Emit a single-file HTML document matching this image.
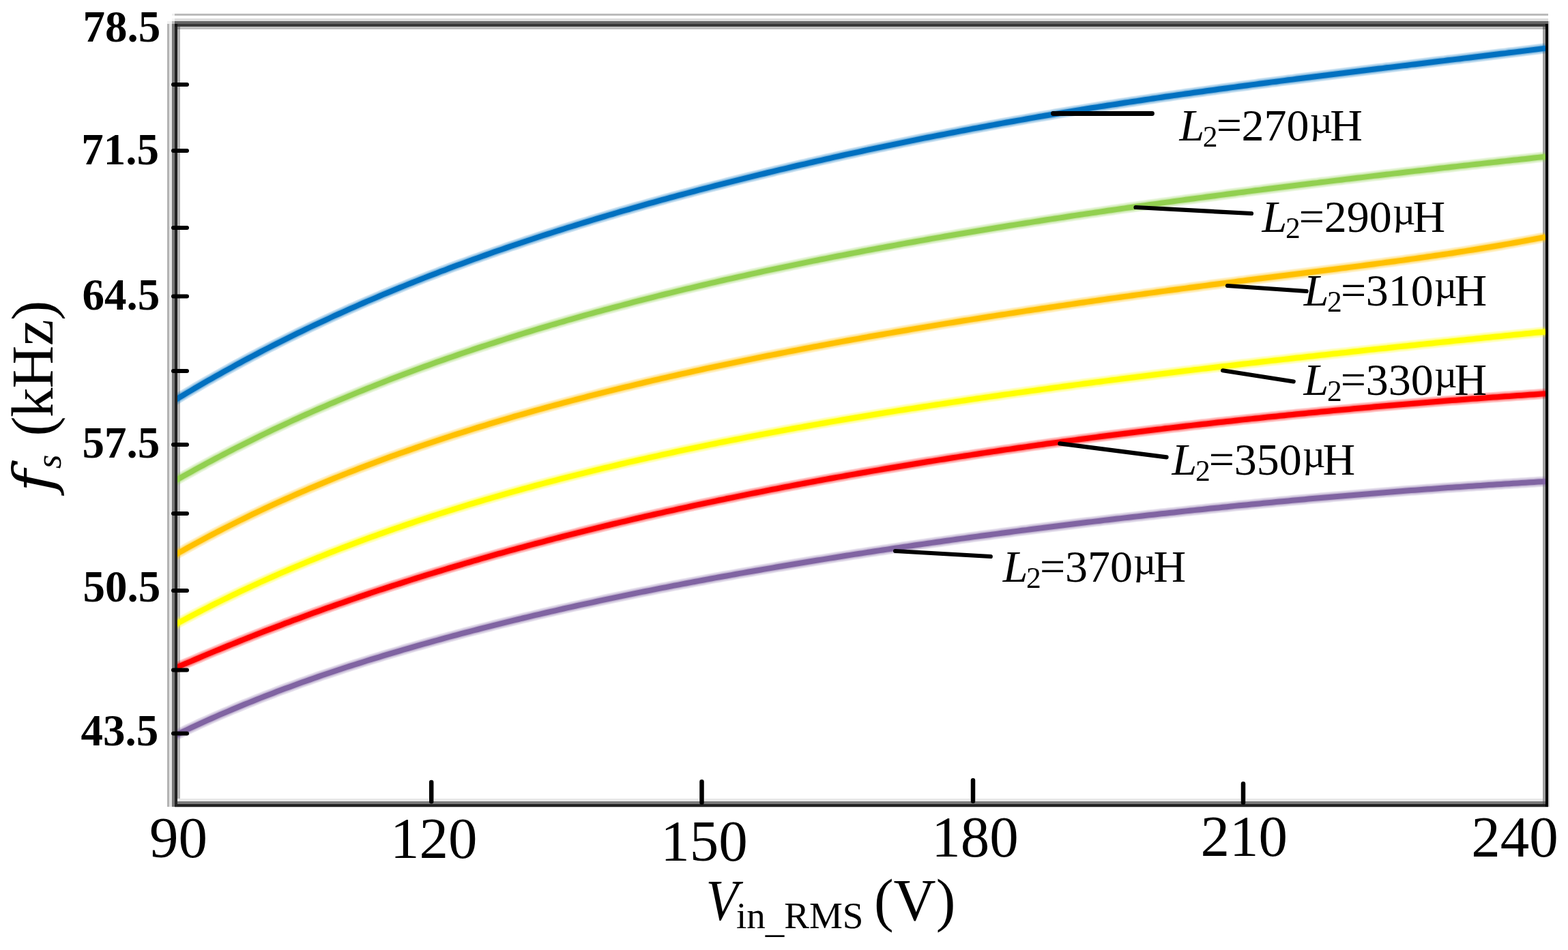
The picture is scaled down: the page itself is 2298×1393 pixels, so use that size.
<!DOCTYPE html>
<html><head><meta charset="utf-8"><style>
html,body{margin:0;padding:0;background:#fff;width:2298px;height:1393px;overflow:hidden}
svg{display:block}
</style></head><body>
<svg xmlns="http://www.w3.org/2000/svg" width="2298" height="1393" viewBox="0 0 2298 1393">
<rect width="2298" height="1393" fill="#fff"/>
<g shape-rendering="crispEdges">
<rect x="252" y="20" width="4" height="3" fill="#f0f0f0"/>
<rect x="256" y="20" width="2013" height="3" fill="#bbbbbb"/>
<rect x="252" y="27" width="4" height="4" fill="#f5f5f5"/>
<rect x="256" y="27" width="2013" height="4" fill="#dddddd"/>
<rect x="245" y="31" width="7" height="4" fill="#f2f2f2"/>
<rect x="252" y="31" width="4" height="4" fill="#bbbbbb"/>
<rect x="256" y="31" width="2013" height="4" fill="#666666"/>
<rect x="2269" y="31" width="2" height="1152" fill="#d0d0d0"/>
<rect x="256" y="35" width="2009" height="4" fill="#383838"/>
<rect x="264" y="39" width="1997" height="4" fill="#c0c0c0"/>
<rect x="245" y="35" width="3" height="1148" fill="#b3b3b3"/>
<rect x="248" y="35" width="4" height="1148" fill="#e6e6e6"/>
<rect x="252" y="35" width="4" height="1148" fill="#787878"/>
<rect x="260" y="39" width="4" height="4" fill="#888888"/>
<rect x="260" y="43" width="4" height="1128" fill="#b5b5b5"/>
<rect x="260" y="1171" width="2001" height="4" fill="#e8e8e8"/>
<rect x="260" y="1175" width="2001" height="4" fill="#7a7a7a"/>
<rect x="256" y="1179" width="2013" height="4" fill="#222222"/>
<rect x="256" y="1183" width="2013" height="1" fill="#c8c8c8"/>
<rect x="2261" y="39" width="4" height="4" fill="#777777"/>
<rect x="2261" y="43" width="4" height="1132" fill="#a0a0a0"/>
<rect x="2261" y="1175" width="4" height="4" fill="#666666"/>
</g>
<defs>
<path id="c_blue" d="M256.0 587.0 L262.0 583.3 L268.0 579.7 L274.0 576.1 L280.0 572.6 L286.0 569.0 L292.0 565.5 L298.0 562.0 L304.0 558.6 L310.0 555.2 L316.0 551.8 L322.0 548.4 L328.0 545.0 L334.0 541.7 L340.0 538.4 L346.0 535.1 L352.0 531.9 L358.0 528.6 L364.0 525.4 L370.0 522.2 L376.0 519.1 L382.0 515.9 L388.0 512.8 L394.0 509.7 L400.0 506.7 L406.0 503.6 L412.0 500.6 L418.0 497.6 L424.0 494.6 L430.0 491.7 L436.0 488.7 L442.0 485.8 L448.0 482.9 L454.0 480.0 L460.0 477.2 L466.0 474.4 L472.0 471.6 L478.0 468.8 L484.0 466.0 L490.0 463.2 L496.0 460.5 L502.0 457.8 L508.0 455.1 L514.0 452.4 L520.0 449.8 L526.0 447.2 L532.0 444.5 L538.0 441.9 L544.0 439.4 L550.0 436.8 L556.0 434.3 L562.0 431.7 L568.0 429.2 L574.0 426.7 L580.0 424.3 L586.0 421.8 L592.0 419.4 L598.0 416.9 L604.0 414.5 L610.0 412.1 L616.0 409.8 L622.0 407.4 L628.0 405.1 L634.0 402.7 L640.0 400.4 L646.0 398.1 L652.0 395.9 L658.0 393.6 L664.0 391.3 L670.0 389.1 L676.0 386.9 L682.0 384.7 L688.0 382.5 L694.0 380.3 L700.0 378.2 L706.0 376.0 L712.0 373.9 L718.0 371.8 L724.0 369.6 L730.0 367.5 L736.0 365.5 L742.0 363.4 L748.0 361.3 L754.0 359.3 L760.0 357.3 L766.0 355.2 L772.0 353.2 L778.0 351.3 L784.0 349.3 L790.0 347.3 L796.0 345.3 L802.0 343.4 L808.0 341.5 L814.0 339.5 L820.0 337.6 L826.0 335.7 L832.0 333.8 L838.0 332.0 L844.0 330.1 L850.0 328.2 L856.0 326.4 L862.0 324.6 L868.0 322.7 L874.0 320.9 L880.0 319.1 L886.0 317.3 L892.0 315.5 L898.0 313.8 L904.0 312.0 L910.0 310.2 L916.0 308.5 L922.0 306.8 L928.0 305.0 L934.0 303.3 L940.0 301.6 L946.0 299.9 L952.0 298.2 L958.0 296.6 L964.0 294.9 L970.0 293.2 L976.0 291.6 L982.0 289.9 L988.0 288.3 L994.0 286.7 L1000.0 285.1 L1006.0 283.5 L1012.0 281.9 L1018.0 280.3 L1024.0 278.7 L1030.0 277.1 L1036.0 275.6 L1042.0 274.0 L1048.0 272.4 L1054.0 270.9 L1060.0 269.4 L1066.0 267.8 L1072.0 266.3 L1078.0 264.8 L1084.0 263.3 L1090.0 261.8 L1096.0 260.3 L1102.0 258.9 L1108.0 257.4 L1114.0 255.9 L1120.0 254.5 L1126.0 253.0 L1132.0 251.6 L1138.0 250.1 L1144.0 248.7 L1150.0 247.3 L1156.0 245.9 L1162.0 244.4 L1168.0 243.0 L1174.0 241.6 L1180.0 240.3 L1186.0 238.9 L1192.0 237.5 L1198.0 236.1 L1204.0 234.8 L1210.0 233.4 L1216.0 232.1 L1222.0 230.7 L1228.0 229.4 L1234.0 228.0 L1240.0 226.7 L1246.0 225.4 L1252.0 224.1 L1258.0 222.8 L1264.0 221.5 L1270.0 220.2 L1276.0 218.9 L1282.0 217.6 L1288.0 216.3 L1294.0 215.1 L1300.0 213.8 L1306.0 212.6 L1312.0 211.3 L1318.0 210.1 L1324.0 208.8 L1330.0 207.6 L1336.0 206.4 L1342.0 205.2 L1348.0 203.9 L1354.0 202.7 L1360.0 201.5 L1366.0 200.3 L1372.0 199.1 L1378.0 198.0 L1384.0 196.8 L1390.0 195.6 L1396.0 194.5 L1402.0 193.3 L1408.0 192.1 L1414.0 191.0 L1420.0 189.9 L1426.0 188.7 L1432.0 187.6 L1438.0 186.5 L1444.0 185.3 L1450.0 184.2 L1456.0 183.1 L1462.0 182.0 L1468.0 180.9 L1474.0 179.8 L1480.0 178.8 L1486.0 177.7 L1492.0 176.6 L1498.0 175.6 L1504.0 174.5 L1510.0 173.4 L1516.0 172.4 L1522.0 171.3 L1528.0 170.3 L1534.0 169.3 L1540.0 168.3 L1546.0 167.2 L1552.0 166.2 L1558.0 165.2 L1564.0 164.2 L1570.0 163.2 L1576.0 162.2 L1582.0 161.3 L1588.0 160.3 L1594.0 159.3 L1600.0 158.3 L1606.0 157.4 L1612.0 156.4 L1618.0 155.5 L1624.0 154.5 L1630.0 153.6 L1636.0 152.7 L1642.0 151.7 L1648.0 150.8 L1654.0 149.9 L1660.0 149.0 L1666.0 148.1 L1672.0 147.2 L1678.0 146.3 L1684.0 145.4 L1690.0 144.5 L1696.0 143.6 L1702.0 142.7 L1708.0 141.8 L1714.0 141.0 L1720.0 140.1 L1726.0 139.2 L1732.0 138.4 L1738.0 137.5 L1744.0 136.7 L1750.0 135.8 L1756.0 135.0 L1762.0 134.2 L1768.0 133.3 L1774.0 132.5 L1780.0 131.7 L1786.0 130.8 L1792.0 130.0 L1798.0 129.2 L1804.0 128.4 L1810.0 127.6 L1816.0 126.8 L1822.0 126.0 L1828.0 125.2 L1834.0 124.4 L1840.0 123.6 L1846.0 122.8 L1852.0 122.0 L1858.0 121.2 L1864.0 120.4 L1870.0 119.7 L1876.0 118.9 L1882.0 118.1 L1888.0 117.3 L1894.0 116.6 L1900.0 115.8 L1906.0 115.0 L1912.0 114.3 L1918.0 113.5 L1924.0 112.7 L1930.0 112.0 L1936.0 111.2 L1942.0 110.5 L1948.0 109.7 L1954.0 109.0 L1960.0 108.2 L1966.0 107.5 L1972.0 106.7 L1978.0 106.0 L1984.0 105.2 L1990.0 104.5 L1996.0 103.7 L2002.0 103.0 L2008.0 102.3 L2014.0 101.5 L2020.0 100.8 L2026.0 100.1 L2032.0 99.3 L2038.0 98.6 L2044.0 97.9 L2050.0 97.1 L2056.0 96.4 L2062.0 95.7 L2068.0 94.9 L2074.0 94.2 L2080.0 93.5 L2086.0 92.7 L2092.0 92.0 L2098.0 91.3 L2104.0 90.5 L2110.0 89.8 L2116.0 89.1 L2122.0 88.3 L2128.0 87.6 L2134.0 86.9 L2140.0 86.2 L2146.0 85.4 L2152.0 84.7 L2158.0 84.0 L2164.0 83.2 L2170.0 82.5 L2176.0 81.8 L2182.0 81.0 L2188.0 80.3 L2194.0 79.5 L2200.0 78.8 L2206.0 78.1 L2212.0 77.3 L2218.0 76.6 L2224.0 75.9 L2230.0 75.1 L2236.0 74.4 L2242.0 73.6 L2248.0 72.9 L2254.0 72.1 L2260.0 71.4 L2265.0 70.8"/>
<path id="c_green" d="M256.0 705.4 L262.0 702.0 L268.0 698.6 L274.0 695.3 L280.0 691.9 L286.0 688.6 L292.0 685.3 L298.0 682.1 L304.0 678.8 L310.0 675.6 L316.0 672.4 L322.0 669.3 L328.0 666.1 L334.0 663.0 L340.0 659.9 L346.0 656.8 L352.0 653.8 L358.0 650.8 L364.0 647.8 L370.0 644.8 L376.0 641.8 L382.0 638.9 L388.0 636.0 L394.0 633.1 L400.0 630.2 L406.0 627.4 L412.0 624.6 L418.0 621.8 L424.0 619.0 L430.0 616.2 L436.0 613.5 L442.0 610.7 L448.0 608.0 L454.0 605.4 L460.0 602.7 L466.0 600.0 L472.0 597.4 L478.0 594.8 L484.0 592.2 L490.0 589.7 L496.0 587.1 L502.0 584.6 L508.0 582.1 L514.0 579.6 L520.0 577.1 L526.0 574.6 L532.0 572.2 L538.0 569.8 L544.0 567.4 L550.0 565.0 L556.0 562.6 L562.0 560.3 L568.0 557.9 L574.0 555.6 L580.0 553.3 L586.0 551.0 L592.0 548.7 L598.0 546.5 L604.0 544.2 L610.0 542.0 L616.0 539.8 L622.0 537.6 L628.0 535.4 L634.0 533.3 L640.0 531.1 L646.0 529.0 L652.0 526.9 L658.0 524.8 L664.0 522.7 L670.0 520.6 L676.0 518.5 L682.0 516.5 L688.0 514.5 L694.0 512.4 L700.0 510.4 L706.0 508.4 L712.0 506.5 L718.0 504.5 L724.0 502.6 L730.0 500.6 L736.0 498.7 L742.0 496.8 L748.0 494.9 L754.0 493.0 L760.0 491.1 L766.0 489.2 L772.0 487.4 L778.0 485.6 L784.0 483.7 L790.0 481.9 L796.0 480.1 L802.0 478.3 L808.0 476.5 L814.0 474.8 L820.0 473.0 L826.0 471.3 L832.0 469.5 L838.0 467.8 L844.0 466.1 L850.0 464.4 L856.0 462.7 L862.0 461.0 L868.0 459.4 L874.0 457.7 L880.0 456.1 L886.0 454.4 L892.0 452.8 L898.0 451.2 L904.0 449.6 L910.0 448.0 L916.0 446.4 L922.0 444.8 L928.0 443.2 L934.0 441.7 L940.0 440.1 L946.0 438.6 L952.0 437.1 L958.0 435.6 L964.0 434.0 L970.0 432.5 L976.0 431.0 L982.0 429.6 L988.0 428.1 L994.0 426.6 L1000.0 425.2 L1006.0 423.7 L1012.0 422.3 L1018.0 420.8 L1024.0 419.4 L1030.0 418.0 L1036.0 416.6 L1042.0 415.2 L1048.0 413.8 L1054.0 412.4 L1060.0 411.0 L1066.0 409.7 L1072.0 408.3 L1078.0 407.0 L1084.0 405.6 L1090.0 404.3 L1096.0 403.0 L1102.0 401.6 L1108.0 400.3 L1114.0 399.0 L1120.0 397.7 L1126.0 396.4 L1132.0 395.1 L1138.0 393.9 L1144.0 392.6 L1150.0 391.3 L1156.0 390.1 L1162.0 388.8 L1168.0 387.6 L1174.0 386.3 L1180.0 385.1 L1186.0 383.9 L1192.0 382.7 L1198.0 381.5 L1204.0 380.2 L1210.0 379.1 L1216.0 377.9 L1222.0 376.7 L1228.0 375.5 L1234.0 374.3 L1240.0 373.2 L1246.0 372.0 L1252.0 370.8 L1258.0 369.7 L1264.0 368.5 L1270.0 367.4 L1276.0 366.3 L1282.0 365.1 L1288.0 364.0 L1294.0 362.9 L1300.0 361.8 L1306.0 360.7 L1312.0 359.6 L1318.0 358.5 L1324.0 357.4 L1330.0 356.3 L1336.0 355.3 L1342.0 354.2 L1348.0 353.1 L1354.0 352.1 L1360.0 351.0 L1366.0 349.9 L1372.0 348.9 L1378.0 347.9 L1384.0 346.8 L1390.0 345.8 L1396.0 344.8 L1402.0 343.7 L1408.0 342.7 L1414.0 341.7 L1420.0 340.7 L1426.0 339.7 L1432.0 338.7 L1438.0 337.7 L1444.0 336.7 L1450.0 335.7 L1456.0 334.7 L1462.0 333.7 L1468.0 332.8 L1474.0 331.8 L1480.0 330.8 L1486.0 329.9 L1492.0 328.9 L1498.0 328.0 L1504.0 327.0 L1510.0 326.1 L1516.0 325.1 L1522.0 324.2 L1528.0 323.3 L1534.0 322.3 L1540.0 321.4 L1546.0 320.5 L1552.0 319.6 L1558.0 318.7 L1564.0 317.7 L1570.0 316.8 L1576.0 315.9 L1582.0 315.0 L1588.0 314.1 L1594.0 313.2 L1600.0 312.4 L1606.0 311.5 L1612.0 310.6 L1618.0 309.7 L1624.0 308.8 L1630.0 308.0 L1636.0 307.1 L1642.0 306.2 L1648.0 305.4 L1654.0 304.5 L1660.0 303.7 L1666.0 302.8 L1672.0 302.0 L1678.0 301.1 L1684.0 300.3 L1690.0 299.4 L1696.0 298.6 L1702.0 297.8 L1708.0 296.9 L1714.0 296.1 L1720.0 295.3 L1726.0 294.4 L1732.0 293.6 L1738.0 292.8 L1744.0 292.0 L1750.0 291.2 L1756.0 290.4 L1762.0 289.6 L1768.0 288.8 L1774.0 288.0 L1780.0 287.2 L1786.0 286.4 L1792.0 285.6 L1798.0 284.8 L1804.0 284.0 L1810.0 283.2 L1816.0 282.4 L1822.0 281.7 L1828.0 280.9 L1834.0 280.1 L1840.0 279.3 L1846.0 278.6 L1852.0 277.8 L1858.0 277.0 L1864.0 276.3 L1870.0 275.5 L1876.0 274.8 L1882.0 274.0 L1888.0 273.3 L1894.0 272.5 L1900.0 271.8 L1906.0 271.0 L1912.0 270.3 L1918.0 269.5 L1924.0 268.8 L1930.0 268.1 L1936.0 267.3 L1942.0 266.6 L1948.0 265.9 L1954.0 265.1 L1960.0 264.4 L1966.0 263.7 L1972.0 262.9 L1978.0 262.2 L1984.0 261.5 L1990.0 260.8 L1996.0 260.1 L2002.0 259.4 L2008.0 258.6 L2014.0 257.9 L2020.0 257.2 L2026.0 256.5 L2032.0 255.8 L2038.0 255.1 L2044.0 254.4 L2050.0 253.7 L2056.0 253.0 L2062.0 252.3 L2068.0 251.6 L2074.0 250.9 L2080.0 250.3 L2086.0 249.6 L2092.0 248.9 L2098.0 248.2 L2104.0 247.5 L2110.0 246.8 L2116.0 246.1 L2122.0 245.5 L2128.0 244.8 L2134.0 244.1 L2140.0 243.4 L2146.0 242.8 L2152.0 242.1 L2158.0 241.4 L2164.0 240.8 L2170.0 240.1 L2176.0 239.4 L2182.0 238.8 L2188.0 238.1 L2194.0 237.5 L2200.0 236.8 L2206.0 236.1 L2212.0 235.5 L2218.0 234.8 L2224.0 234.2 L2230.0 233.5 L2236.0 232.9 L2242.0 232.2 L2248.0 231.6 L2254.0 230.9 L2260.0 230.3 L2265.0 229.7"/>
<path id="c_orange" d="M256.0 814.0 L262.0 810.5 L268.0 807.2 L274.0 803.8 L280.0 800.5 L286.0 797.2 L292.0 794.0 L298.0 790.7 L304.0 787.5 L310.0 784.4 L316.0 781.2 L322.0 778.1 L328.0 775.0 L334.0 772.0 L340.0 769.0 L346.0 766.0 L352.0 763.0 L358.0 760.1 L364.0 757.1 L370.0 754.2 L376.0 751.4 L382.0 748.5 L388.0 745.7 L394.0 742.9 L400.0 740.1 L406.0 737.4 L412.0 734.7 L418.0 732.0 L424.0 729.3 L430.0 726.6 L436.0 724.0 L442.0 721.4 L448.0 718.8 L454.0 716.2 L460.0 713.7 L466.0 711.2 L472.0 708.7 L478.0 706.2 L484.0 703.7 L490.0 701.3 L496.0 698.9 L502.0 696.5 L508.0 694.1 L514.0 691.7 L520.0 689.4 L526.0 687.1 L532.0 684.8 L538.0 682.5 L544.0 680.2 L550.0 678.0 L556.0 675.7 L562.0 673.5 L568.0 671.3 L574.0 669.1 L580.0 667.0 L586.0 664.8 L592.0 662.7 L598.0 660.6 L604.0 658.5 L610.0 656.4 L616.0 654.3 L622.0 652.3 L628.0 650.2 L634.0 648.2 L640.0 646.2 L646.0 644.2 L652.0 642.2 L658.0 640.3 L664.0 638.3 L670.0 636.4 L676.0 634.5 L682.0 632.6 L688.0 630.7 L694.0 628.8 L700.0 626.9 L706.0 625.1 L712.0 623.3 L718.0 621.4 L724.0 619.6 L730.0 617.8 L736.0 616.0 L742.0 614.3 L748.0 612.5 L754.0 610.7 L760.0 609.0 L766.0 607.3 L772.0 605.6 L778.0 603.9 L784.0 602.2 L790.0 600.5 L796.0 598.8 L802.0 597.2 L808.0 595.5 L814.0 593.9 L820.0 592.3 L826.0 590.7 L832.0 589.1 L838.0 587.5 L844.0 585.9 L850.0 584.3 L856.0 582.8 L862.0 581.2 L868.0 579.7 L874.0 578.2 L880.0 576.6 L886.0 575.1 L892.0 573.6 L898.0 572.1 L904.0 570.7 L910.0 569.2 L916.0 567.7 L922.0 566.3 L928.0 564.8 L934.0 563.4 L940.0 562.0 L946.0 560.5 L952.0 559.1 L958.0 557.7 L964.0 556.3 L970.0 554.9 L976.0 553.6 L982.0 552.2 L988.0 550.8 L994.0 549.5 L1000.0 548.1 L1006.0 546.8 L1012.0 545.5 L1018.0 544.1 L1024.0 542.8 L1030.0 541.5 L1036.0 540.2 L1042.0 538.9 L1048.0 537.6 L1054.0 536.4 L1060.0 535.1 L1066.0 533.8 L1072.0 532.6 L1078.0 531.3 L1084.0 530.1 L1090.0 528.8 L1096.0 527.6 L1102.0 526.4 L1108.0 525.2 L1114.0 523.9 L1120.0 522.7 L1126.0 521.5 L1132.0 520.3 L1138.0 519.2 L1144.0 518.0 L1150.0 516.8 L1156.0 515.6 L1162.0 514.5 L1168.0 513.3 L1174.0 512.1 L1180.0 511.0 L1186.0 509.9 L1192.0 508.7 L1198.0 507.6 L1204.0 506.5 L1210.0 505.3 L1216.0 504.2 L1222.0 503.1 L1228.0 502.0 L1234.0 500.9 L1240.0 499.8 L1246.0 498.7 L1252.0 497.6 L1258.0 496.6 L1264.0 495.5 L1270.0 494.4 L1276.0 493.3 L1282.0 492.3 L1288.0 491.2 L1294.0 490.2 L1300.0 489.1 L1306.0 488.1 L1312.0 487.0 L1318.0 486.0 L1324.0 485.0 L1330.0 484.0 L1336.0 482.9 L1342.0 481.9 L1348.0 480.9 L1354.0 479.9 L1360.0 478.9 L1366.0 477.9 L1372.0 476.9 L1378.0 475.9 L1384.0 474.9 L1390.0 473.9 L1396.0 473.0 L1402.0 472.0 L1408.0 471.0 L1414.0 470.0 L1420.0 469.1 L1426.0 468.1 L1432.0 467.2 L1438.0 466.2 L1444.0 465.3 L1450.0 464.3 L1456.0 463.4 L1462.0 462.4 L1468.0 461.5 L1474.0 460.6 L1480.0 459.6 L1486.0 458.7 L1492.0 457.8 L1498.0 456.9 L1504.0 455.9 L1510.0 455.0 L1516.0 454.1 L1522.0 453.2 L1528.0 452.3 L1534.0 451.4 L1540.0 450.5 L1546.0 449.6 L1552.0 448.7 L1558.0 447.9 L1564.0 447.0 L1570.0 446.1 L1576.0 445.2 L1582.0 444.3 L1588.0 443.5 L1594.0 442.6 L1600.0 441.7 L1606.0 440.9 L1612.0 440.0 L1618.0 439.1 L1624.0 438.3 L1630.0 437.4 L1636.0 436.6 L1642.0 435.7 L1648.0 434.9 L1654.0 434.1 L1660.0 433.2 L1666.0 432.4 L1672.0 431.6 L1678.0 430.7 L1684.0 429.9 L1690.0 429.1 L1696.0 428.3 L1702.0 427.4 L1708.0 426.6 L1714.0 425.8 L1720.0 425.0 L1726.0 424.2 L1732.0 423.4 L1738.0 422.6 L1744.0 421.8 L1750.0 421.0 L1756.0 420.2 L1762.0 419.4 L1768.0 418.6 L1774.0 417.8 L1780.0 417.0 L1786.0 416.2 L1792.0 415.4 L1798.0 414.7 L1804.0 413.9 L1810.0 413.1 L1816.0 412.3 L1822.0 411.6 L1828.0 410.8 L1834.0 410.0 L1840.0 409.3 L1846.0 408.5 L1852.0 407.7 L1858.0 407.0 L1864.0 406.2 L1870.0 405.5 L1876.0 404.7 L1882.0 404.0 L1888.0 403.2 L1894.0 402.5 L1900.0 401.7 L1906.0 401.0 L1912.0 400.2 L1918.0 399.5 L1924.0 398.7 L1930.0 398.0 L1936.0 397.2 L1942.0 396.5 L1948.0 395.7 L1954.0 395.0 L1960.0 394.2 L1966.0 393.4 L1972.0 392.7 L1978.0 391.9 L1984.0 391.1 L1990.0 390.4 L1996.0 389.6 L2002.0 388.8 L2008.0 388.0 L2014.0 387.2 L2020.0 386.4 L2026.0 385.6 L2032.0 384.8 L2038.0 384.0 L2044.0 383.2 L2050.0 382.4 L2056.0 381.6 L2062.0 380.7 L2068.0 379.9 L2074.0 379.1 L2080.0 378.2 L2086.0 377.4 L2092.0 376.5 L2098.0 375.6 L2104.0 374.8 L2110.0 373.9 L2116.0 373.0 L2122.0 372.1 L2128.0 371.2 L2134.0 370.2 L2140.0 369.3 L2146.0 368.4 L2152.0 367.4 L2158.0 366.5 L2164.0 365.5 L2170.0 364.5 L2176.0 363.5 L2182.0 362.5 L2188.0 361.5 L2194.0 360.5 L2200.0 359.5 L2206.0 358.4 L2212.0 357.4 L2218.0 356.3 L2224.0 355.2 L2230.0 354.1 L2236.0 353.0 L2242.0 351.9 L2248.0 350.8 L2254.0 349.6 L2260.0 348.5 L2265.0 347.5"/>
<path id="c_yellow" d="M256.0 916.2 L262.0 912.9 L268.0 909.7 L274.0 906.5 L280.0 903.4 L286.0 900.2 L292.0 897.1 L298.0 894.0 L304.0 891.0 L310.0 887.9 L316.0 884.9 L322.0 882.0 L328.0 879.0 L334.0 876.1 L340.0 873.2 L346.0 870.3 L352.0 867.4 L358.0 864.6 L364.0 861.8 L370.0 859.0 L376.0 856.3 L382.0 853.5 L388.0 850.8 L394.0 848.1 L400.0 845.5 L406.0 842.8 L412.0 840.2 L418.0 837.6 L424.0 835.0 L430.0 832.4 L436.0 829.9 L442.0 827.4 L448.0 824.9 L454.0 822.4 L460.0 820.0 L466.0 817.5 L472.0 815.1 L478.0 812.7 L484.0 810.3 L490.0 808.0 L496.0 805.6 L502.0 803.3 L508.0 801.0 L514.0 798.7 L520.0 796.5 L526.0 794.2 L532.0 792.0 L538.0 789.8 L544.0 787.6 L550.0 785.4 L556.0 783.2 L562.0 781.1 L568.0 779.0 L574.0 776.9 L580.0 774.8 L586.0 772.7 L592.0 770.6 L598.0 768.6 L604.0 766.6 L610.0 764.5 L616.0 762.5 L622.0 760.6 L628.0 758.6 L634.0 756.6 L640.0 754.7 L646.0 752.8 L652.0 750.9 L658.0 749.0 L664.0 747.1 L670.0 745.2 L676.0 743.4 L682.0 741.5 L688.0 739.7 L694.0 737.9 L700.0 736.1 L706.0 734.3 L712.0 732.5 L718.0 730.8 L724.0 729.0 L730.0 727.3 L736.0 725.6 L742.0 723.9 L748.0 722.2 L754.0 720.5 L760.0 718.8 L766.0 717.1 L772.0 715.5 L778.0 713.9 L784.0 712.2 L790.0 710.6 L796.0 709.0 L802.0 707.4 L808.0 705.8 L814.0 704.3 L820.0 702.7 L826.0 701.2 L832.0 699.6 L838.0 698.1 L844.0 696.6 L850.0 695.1 L856.0 693.6 L862.0 692.1 L868.0 690.6 L874.0 689.1 L880.0 687.7 L886.0 686.2 L892.0 684.8 L898.0 683.4 L904.0 682.0 L910.0 680.5 L916.0 679.1 L922.0 677.7 L928.0 676.4 L934.0 675.0 L940.0 673.6 L946.0 672.3 L952.0 670.9 L958.0 669.6 L964.0 668.3 L970.0 666.9 L976.0 665.6 L982.0 664.3 L988.0 663.0 L994.0 661.7 L1000.0 660.4 L1006.0 659.2 L1012.0 657.9 L1018.0 656.6 L1024.0 655.4 L1030.0 654.1 L1036.0 652.9 L1042.0 651.7 L1048.0 650.5 L1054.0 649.2 L1060.0 648.0 L1066.0 646.8 L1072.0 645.6 L1078.0 644.5 L1084.0 643.3 L1090.0 642.1 L1096.0 640.9 L1102.0 639.8 L1108.0 638.6 L1114.0 637.5 L1120.0 636.3 L1126.0 635.2 L1132.0 634.1 L1138.0 633.0 L1144.0 631.8 L1150.0 630.7 L1156.0 629.6 L1162.0 628.5 L1168.0 627.4 L1174.0 626.4 L1180.0 625.3 L1186.0 624.2 L1192.0 623.1 L1198.0 622.1 L1204.0 621.0 L1210.0 620.0 L1216.0 618.9 L1222.0 617.9 L1228.0 616.9 L1234.0 615.8 L1240.0 614.8 L1246.0 613.8 L1252.0 612.8 L1258.0 611.8 L1264.0 610.8 L1270.0 609.8 L1276.0 608.8 L1282.0 607.8 L1288.0 606.8 L1294.0 605.8 L1300.0 604.8 L1306.0 603.9 L1312.0 602.9 L1318.0 601.9 L1324.0 601.0 L1330.0 600.0 L1336.0 599.1 L1342.0 598.2 L1348.0 597.2 L1354.0 596.3 L1360.0 595.4 L1366.0 594.4 L1372.0 593.5 L1378.0 592.6 L1384.0 591.7 L1390.0 590.8 L1396.0 589.9 L1402.0 589.0 L1408.0 588.1 L1414.0 587.2 L1420.0 586.3 L1426.0 585.4 L1432.0 584.5 L1438.0 583.6 L1444.0 582.8 L1450.0 581.9 L1456.0 581.0 L1462.0 580.2 L1468.0 579.3 L1474.0 578.4 L1480.0 577.6 L1486.0 576.7 L1492.0 575.9 L1498.0 575.1 L1504.0 574.2 L1510.0 573.4 L1516.0 572.6 L1522.0 571.7 L1528.0 570.9 L1534.0 570.1 L1540.0 569.3 L1546.0 568.4 L1552.0 567.6 L1558.0 566.8 L1564.0 566.0 L1570.0 565.2 L1576.0 564.4 L1582.0 563.6 L1588.0 562.8 L1594.0 562.0 L1600.0 561.2 L1606.0 560.4 L1612.0 559.7 L1618.0 558.9 L1624.0 558.1 L1630.0 557.3 L1636.0 556.6 L1642.0 555.8 L1648.0 555.0 L1654.0 554.2 L1660.0 553.5 L1666.0 552.7 L1672.0 552.0 L1678.0 551.2 L1684.0 550.5 L1690.0 549.7 L1696.0 549.0 L1702.0 548.2 L1708.0 547.5 L1714.0 546.7 L1720.0 546.0 L1726.0 545.3 L1732.0 544.5 L1738.0 543.8 L1744.0 543.1 L1750.0 542.3 L1756.0 541.6 L1762.0 540.9 L1768.0 540.2 L1774.0 539.5 L1780.0 538.7 L1786.0 538.0 L1792.0 537.3 L1798.0 536.6 L1804.0 535.9 L1810.0 535.2 L1816.0 534.5 L1822.0 533.8 L1828.0 533.1 L1834.0 532.4 L1840.0 531.7 L1846.0 531.0 L1852.0 530.3 L1858.0 529.6 L1864.0 528.9 L1870.0 528.3 L1876.0 527.6 L1882.0 526.9 L1888.0 526.2 L1894.0 525.5 L1900.0 524.8 L1906.0 524.2 L1912.0 523.5 L1918.0 522.8 L1924.0 522.2 L1930.0 521.5 L1936.0 520.8 L1942.0 520.2 L1948.0 519.5 L1954.0 518.8 L1960.0 518.2 L1966.0 517.5 L1972.0 516.9 L1978.0 516.2 L1984.0 515.5 L1990.0 514.9 L1996.0 514.2 L2002.0 513.6 L2008.0 512.9 L2014.0 512.3 L2020.0 511.6 L2026.0 511.0 L2032.0 510.4 L2038.0 509.7 L2044.0 509.1 L2050.0 508.4 L2056.0 507.8 L2062.0 507.2 L2068.0 506.5 L2074.0 505.9 L2080.0 505.3 L2086.0 504.6 L2092.0 504.0 L2098.0 503.4 L2104.0 502.8 L2110.0 502.1 L2116.0 501.5 L2122.0 500.9 L2128.0 500.3 L2134.0 499.6 L2140.0 499.0 L2146.0 498.4 L2152.0 497.8 L2158.0 497.2 L2164.0 496.6 L2170.0 496.0 L2176.0 495.3 L2182.0 494.7 L2188.0 494.1 L2194.0 493.5 L2200.0 492.9 L2206.0 492.3 L2212.0 491.7 L2218.0 491.1 L2224.0 490.5 L2230.0 489.9 L2236.0 489.3 L2242.0 488.7 L2248.0 488.1 L2254.0 487.5 L2260.0 486.9 L2265.0 486.4"/>
<path id="c_red" d="M256.0 980.0 L262.0 977.3 L268.0 974.7 L274.0 972.1 L280.0 969.6 L286.0 967.0 L292.0 964.5 L298.0 961.9 L304.0 959.4 L310.0 956.9 L316.0 954.4 L322.0 952.0 L328.0 949.5 L334.0 947.0 L340.0 944.6 L346.0 942.2 L352.0 939.8 L358.0 937.4 L364.0 935.0 L370.0 932.6 L376.0 930.3 L382.0 927.9 L388.0 925.6 L394.0 923.3 L400.0 921.0 L406.0 918.7 L412.0 916.4 L418.0 914.1 L424.0 911.9 L430.0 909.6 L436.0 907.4 L442.0 905.2 L448.0 903.0 L454.0 900.8 L460.0 898.6 L466.0 896.4 L472.0 894.3 L478.0 892.1 L484.0 890.0 L490.0 887.9 L496.0 885.8 L502.0 883.7 L508.0 881.6 L514.0 879.5 L520.0 877.5 L526.0 875.4 L532.0 873.4 L538.0 871.4 L544.0 869.3 L550.0 867.3 L556.0 865.3 L562.0 863.4 L568.0 861.4 L574.0 859.4 L580.0 857.5 L586.0 855.6 L592.0 853.6 L598.0 851.7 L604.0 849.8 L610.0 847.9 L616.0 846.0 L622.0 844.2 L628.0 842.3 L634.0 840.5 L640.0 838.6 L646.0 836.8 L652.0 835.0 L658.0 833.2 L664.0 831.4 L670.0 829.6 L676.0 827.8 L682.0 826.0 L688.0 824.3 L694.0 822.5 L700.0 820.8 L706.0 819.0 L712.0 817.3 L718.0 815.6 L724.0 813.9 L730.0 812.2 L736.0 810.6 L742.0 808.9 L748.0 807.2 L754.0 805.6 L760.0 803.9 L766.0 802.3 L772.0 800.7 L778.0 799.0 L784.0 797.4 L790.0 795.8 L796.0 794.3 L802.0 792.7 L808.0 791.1 L814.0 789.5 L820.0 788.0 L826.0 786.4 L832.0 784.9 L838.0 783.4 L844.0 781.9 L850.0 780.3 L856.0 778.8 L862.0 777.3 L868.0 775.9 L874.0 774.4 L880.0 772.9 L886.0 771.4 L892.0 770.0 L898.0 768.5 L904.0 767.1 L910.0 765.7 L916.0 764.3 L922.0 762.8 L928.0 761.4 L934.0 760.0 L940.0 758.6 L946.0 757.2 L952.0 755.9 L958.0 754.5 L964.0 753.1 L970.0 751.8 L976.0 750.4 L982.0 749.1 L988.0 747.8 L994.0 746.4 L1000.0 745.1 L1006.0 743.8 L1012.0 742.5 L1018.0 741.2 L1024.0 739.9 L1030.0 738.6 L1036.0 737.3 L1042.0 736.1 L1048.0 734.8 L1054.0 733.5 L1060.0 732.3 L1066.0 731.0 L1072.0 729.8 L1078.0 728.6 L1084.0 727.3 L1090.0 726.1 L1096.0 724.9 L1102.0 723.7 L1108.0 722.5 L1114.0 721.3 L1120.0 720.1 L1126.0 718.9 L1132.0 717.7 L1138.0 716.6 L1144.0 715.4 L1150.0 714.2 L1156.0 713.1 L1162.0 711.9 L1168.0 710.8 L1174.0 709.6 L1180.0 708.5 L1186.0 707.4 L1192.0 706.3 L1198.0 705.1 L1204.0 704.0 L1210.0 702.9 L1216.0 701.8 L1222.0 700.7 L1228.0 699.6 L1234.0 698.6 L1240.0 697.5 L1246.0 696.4 L1252.0 695.4 L1258.0 694.3 L1264.0 693.2 L1270.0 692.2 L1276.0 691.1 L1282.0 690.1 L1288.0 689.1 L1294.0 688.0 L1300.0 687.0 L1306.0 686.0 L1312.0 685.0 L1318.0 684.0 L1324.0 683.0 L1330.0 682.0 L1336.0 681.0 L1342.0 680.0 L1348.0 679.0 L1354.0 678.0 L1360.0 677.0 L1366.0 676.1 L1372.0 675.1 L1378.0 674.1 L1384.0 673.2 L1390.0 672.2 L1396.0 671.3 L1402.0 670.4 L1408.0 669.4 L1414.0 668.5 L1420.0 667.6 L1426.0 666.6 L1432.0 665.7 L1438.0 664.8 L1444.0 663.9 L1450.0 663.0 L1456.0 662.1 L1462.0 661.2 L1468.0 660.3 L1474.0 659.4 L1480.0 658.6 L1486.0 657.7 L1492.0 656.8 L1498.0 656.0 L1504.0 655.1 L1510.0 654.2 L1516.0 653.4 L1522.0 652.5 L1528.0 651.7 L1534.0 650.8 L1540.0 650.0 L1546.0 649.2 L1552.0 648.4 L1558.0 647.5 L1564.0 646.7 L1570.0 645.9 L1576.0 645.1 L1582.0 644.3 L1588.0 643.5 L1594.0 642.7 L1600.0 641.9 L1606.0 641.1 L1612.0 640.3 L1618.0 639.5 L1624.0 638.8 L1630.0 638.0 L1636.0 637.2 L1642.0 636.5 L1648.0 635.7 L1654.0 635.0 L1660.0 634.2 L1666.0 633.5 L1672.0 632.7 L1678.0 632.0 L1684.0 631.2 L1690.0 630.5 L1696.0 629.8 L1702.0 629.1 L1708.0 628.3 L1714.0 627.6 L1720.0 626.9 L1726.0 626.2 L1732.0 625.5 L1738.0 624.8 L1744.0 624.1 L1750.0 623.4 L1756.0 622.7 L1762.0 622.0 L1768.0 621.4 L1774.0 620.7 L1780.0 620.0 L1786.0 619.3 L1792.0 618.7 L1798.0 618.0 L1804.0 617.4 L1810.0 616.7 L1816.0 616.1 L1822.0 615.4 L1828.0 614.8 L1834.0 614.1 L1840.0 613.5 L1846.0 612.9 L1852.0 612.2 L1858.0 611.6 L1864.0 611.0 L1870.0 610.4 L1876.0 609.8 L1882.0 609.2 L1888.0 608.5 L1894.0 607.9 L1900.0 607.3 L1906.0 606.8 L1912.0 606.2 L1918.0 605.6 L1924.0 605.0 L1930.0 604.4 L1936.0 603.8 L1942.0 603.3 L1948.0 602.7 L1954.0 602.1 L1960.0 601.6 L1966.0 601.0 L1972.0 600.4 L1978.0 599.9 L1984.0 599.3 L1990.0 598.8 L1996.0 598.2 L2002.0 597.7 L2008.0 597.2 L2014.0 596.6 L2020.0 596.1 L2026.0 595.6 L2032.0 595.1 L2038.0 594.5 L2044.0 594.0 L2050.0 593.5 L2056.0 593.0 L2062.0 592.5 L2068.0 592.0 L2074.0 591.5 L2080.0 591.0 L2086.0 590.5 L2092.0 590.0 L2098.0 589.5 L2104.0 589.0 L2110.0 588.6 L2116.0 588.1 L2122.0 587.6 L2128.0 587.1 L2134.0 586.7 L2140.0 586.2 L2146.0 585.8 L2152.0 585.3 L2158.0 584.8 L2164.0 584.4 L2170.0 583.9 L2176.0 583.5 L2182.0 583.1 L2188.0 582.6 L2194.0 582.2 L2200.0 581.8 L2206.0 581.3 L2212.0 580.9 L2218.0 580.5 L2224.0 580.1 L2230.0 579.7 L2236.0 579.2 L2242.0 578.8 L2248.0 578.4 L2254.0 578.0 L2260.0 577.6 L2265.0 577.3"/>
<path id="c_purple" d="M256.0 1078.7 L262.0 1075.8 L268.0 1072.9 L274.0 1070.0 L280.0 1067.2 L286.0 1064.4 L292.0 1061.6 L298.0 1058.9 L304.0 1056.2 L310.0 1053.5 L316.0 1050.9 L322.0 1048.2 L328.0 1045.6 L334.0 1043.1 L340.0 1040.5 L346.0 1038.0 L352.0 1035.5 L358.0 1033.0 L364.0 1030.6 L370.0 1028.2 L376.0 1025.8 L382.0 1023.4 L388.0 1021.0 L394.0 1018.7 L400.0 1016.4 L406.0 1014.1 L412.0 1011.8 L418.0 1009.6 L424.0 1007.4 L430.0 1005.2 L436.0 1003.0 L442.0 1000.8 L448.0 998.7 L454.0 996.6 L460.0 994.5 L466.0 992.4 L472.0 990.3 L478.0 988.3 L484.0 986.3 L490.0 984.3 L496.0 982.3 L502.0 980.3 L508.0 978.3 L514.0 976.4 L520.0 974.5 L526.0 972.6 L532.0 970.7 L538.0 968.8 L544.0 966.9 L550.0 965.1 L556.0 963.3 L562.0 961.4 L568.0 959.6 L574.0 957.8 L580.0 956.1 L586.0 954.3 L592.0 952.5 L598.0 950.8 L604.0 949.1 L610.0 947.4 L616.0 945.7 L622.0 944.0 L628.0 942.3 L634.0 940.6 L640.0 939.0 L646.0 937.3 L652.0 935.7 L658.0 934.0 L664.0 932.4 L670.0 930.8 L676.0 929.2 L682.0 927.6 L688.0 926.1 L694.0 924.5 L700.0 923.0 L706.0 921.4 L712.0 919.9 L718.0 918.4 L724.0 916.8 L730.0 915.3 L736.0 913.8 L742.0 912.4 L748.0 910.9 L754.0 909.4 L760.0 908.0 L766.0 906.5 L772.0 905.1 L778.0 903.7 L784.0 902.2 L790.0 900.8 L796.0 899.4 L802.0 898.0 L808.0 896.6 L814.0 895.3 L820.0 893.9 L826.0 892.5 L832.0 891.2 L838.0 889.8 L844.0 888.5 L850.0 887.2 L856.0 885.9 L862.0 884.6 L868.0 883.3 L874.0 882.0 L880.0 880.7 L886.0 879.4 L892.0 878.1 L898.0 876.9 L904.0 875.6 L910.0 874.4 L916.0 873.1 L922.0 871.9 L928.0 870.6 L934.0 869.4 L940.0 868.2 L946.0 867.0 L952.0 865.8 L958.0 864.6 L964.0 863.4 L970.0 862.2 L976.0 861.1 L982.0 859.9 L988.0 858.7 L994.0 857.6 L1000.0 856.4 L1006.0 855.3 L1012.0 854.1 L1018.0 853.0 L1024.0 851.9 L1030.0 850.8 L1036.0 849.6 L1042.0 848.5 L1048.0 847.4 L1054.0 846.3 L1060.0 845.2 L1066.0 844.2 L1072.0 843.1 L1078.0 842.0 L1084.0 840.9 L1090.0 839.9 L1096.0 838.8 L1102.0 837.8 L1108.0 836.7 L1114.0 835.7 L1120.0 834.6 L1126.0 833.6 L1132.0 832.6 L1138.0 831.5 L1144.0 830.5 L1150.0 829.5 L1156.0 828.5 L1162.0 827.5 L1168.0 826.5 L1174.0 825.5 L1180.0 824.5 L1186.0 823.5 L1192.0 822.5 L1198.0 821.5 L1204.0 820.6 L1210.0 819.6 L1216.0 818.6 L1222.0 817.7 L1228.0 816.7 L1234.0 815.8 L1240.0 814.8 L1246.0 813.9 L1252.0 812.9 L1258.0 812.0 L1264.0 811.1 L1270.0 810.1 L1276.0 809.2 L1282.0 808.3 L1288.0 807.4 L1294.0 806.5 L1300.0 805.6 L1306.0 804.7 L1312.0 803.8 L1318.0 802.9 L1324.0 802.0 L1330.0 801.1 L1336.0 800.2 L1342.0 799.3 L1348.0 798.5 L1354.0 797.6 L1360.0 796.7 L1366.0 795.9 L1372.0 795.0 L1378.0 794.2 L1384.0 793.3 L1390.0 792.5 L1396.0 791.6 L1402.0 790.8 L1408.0 789.9 L1414.0 789.1 L1420.0 788.3 L1426.0 787.4 L1432.0 786.6 L1438.0 785.8 L1444.0 785.0 L1450.0 784.2 L1456.0 783.4 L1462.0 782.6 L1468.0 781.8 L1474.0 781.0 L1480.0 780.2 L1486.0 779.4 L1492.0 778.6 L1498.0 777.8 L1504.0 777.1 L1510.0 776.3 L1516.0 775.5 L1522.0 774.7 L1528.0 774.0 L1534.0 773.2 L1540.0 772.5 L1546.0 771.7 L1552.0 771.0 L1558.0 770.2 L1564.0 769.5 L1570.0 768.7 L1576.0 768.0 L1582.0 767.3 L1588.0 766.5 L1594.0 765.8 L1600.0 765.1 L1606.0 764.4 L1612.0 763.7 L1618.0 762.9 L1624.0 762.2 L1630.0 761.5 L1636.0 760.8 L1642.0 760.1 L1648.0 759.4 L1654.0 758.7 L1660.0 758.1 L1666.0 757.4 L1672.0 756.7 L1678.0 756.0 L1684.0 755.3 L1690.0 754.7 L1696.0 754.0 L1702.0 753.3 L1708.0 752.7 L1714.0 752.0 L1720.0 751.4 L1726.0 750.7 L1732.0 750.1 L1738.0 749.4 L1744.0 748.8 L1750.0 748.1 L1756.0 747.5 L1762.0 746.9 L1768.0 746.2 L1774.0 745.6 L1780.0 745.0 L1786.0 744.4 L1792.0 743.8 L1798.0 743.2 L1804.0 742.6 L1810.0 741.9 L1816.0 741.3 L1822.0 740.7 L1828.0 740.2 L1834.0 739.6 L1840.0 739.0 L1846.0 738.4 L1852.0 737.8 L1858.0 737.2 L1864.0 736.7 L1870.0 736.1 L1876.0 735.5 L1882.0 735.0 L1888.0 734.4 L1894.0 733.8 L1900.0 733.3 L1906.0 732.7 L1912.0 732.2 L1918.0 731.6 L1924.0 731.1 L1930.0 730.6 L1936.0 730.0 L1942.0 729.5 L1948.0 729.0 L1954.0 728.4 L1960.0 727.9 L1966.0 727.4 L1972.0 726.9 L1978.0 726.4 L1984.0 725.9 L1990.0 725.4 L1996.0 724.9 L2002.0 724.4 L2008.0 723.9 L2014.0 723.4 L2020.0 722.9 L2026.0 722.4 L2032.0 721.9 L2038.0 721.5 L2044.0 721.0 L2050.0 720.5 L2056.0 720.0 L2062.0 719.6 L2068.0 719.1 L2074.0 718.7 L2080.0 718.2 L2086.0 717.8 L2092.0 717.3 L2098.0 716.9 L2104.0 716.4 L2110.0 716.0 L2116.0 715.6 L2122.0 715.1 L2128.0 714.7 L2134.0 714.3 L2140.0 713.9 L2146.0 713.5 L2152.0 713.1 L2158.0 712.7 L2164.0 712.3 L2170.0 711.9 L2176.0 711.5 L2182.0 711.1 L2188.0 710.7 L2194.0 710.3 L2200.0 709.9 L2206.0 709.5 L2212.0 709.2 L2218.0 708.8 L2224.0 708.4 L2230.0 708.1 L2236.0 707.7 L2242.0 707.3 L2248.0 707.0 L2254.0 706.6 L2260.0 706.3 L2265.0 706.0"/>
<clipPath id="plotclip"><rect x="258" y="30" width="2007" height="1150"/></clipPath>
</defs>
<g fill="none" stroke-linejoin="round" clip-path="url(#plotclip)">
<use href="#c_blue" stroke="#0070C0" stroke-width="15.5" stroke-opacity="0.22"/>
<use href="#c_blue" stroke="#0070C0" stroke-width="11.5" stroke-opacity="0.3"/>
<use href="#c_blue" stroke="#0070C0" stroke-width="8"/>
<use href="#c_green" stroke="#92D050" stroke-width="15.5" stroke-opacity="0.22"/>
<use href="#c_green" stroke="#92D050" stroke-width="11.5" stroke-opacity="0.3"/>
<use href="#c_green" stroke="#92D050" stroke-width="8"/>
<use href="#c_orange" stroke="#FFC000" stroke-width="15.5" stroke-opacity="0.22"/>
<use href="#c_orange" stroke="#FFC000" stroke-width="11.5" stroke-opacity="0.3"/>
<use href="#c_orange" stroke="#FFC000" stroke-width="8"/>
<use href="#c_yellow" stroke="#FFFF00" stroke-width="15.5" stroke-opacity="0.22"/>
<use href="#c_yellow" stroke="#FFFF00" stroke-width="11.5" stroke-opacity="0.3"/>
<use href="#c_yellow" stroke="#FFFF00" stroke-width="8"/>
<use href="#c_red" stroke="#FF0000" stroke-width="15.5" stroke-opacity="0.22"/>
<use href="#c_red" stroke="#FF0000" stroke-width="11.5" stroke-opacity="0.3"/>
<use href="#c_red" stroke="#FF0000" stroke-width="8"/>
<use href="#c_purple" stroke="#8064A2" stroke-width="15.5" stroke-opacity="0.22"/>
<use href="#c_purple" stroke="#8064A2" stroke-width="11.5" stroke-opacity="0.3"/>
<use href="#c_purple" stroke="#8064A2" stroke-width="8"/>
</g>
<g shape-rendering="crispEdges">
<rect x="256" y="35" width="4" height="1148" fill="#222222"/>
<rect x="256" y="35" width="4" height="4" fill="#111111"/>
<rect x="2265" y="35" width="4" height="1148" fill="#000000"/>
</g>
<g stroke="#000" stroke-width="6" stroke-linecap="round">
<line x1="254" y1="124.0" x2="274" y2="124.0"/>
<line x1="254" y1="221.0" x2="274" y2="221.0"/>
<line x1="254" y1="334.0" x2="274" y2="334.0"/>
<line x1="254" y1="434.5" x2="274" y2="434.5"/>
<line x1="254" y1="544.0" x2="274" y2="544.0"/>
<line x1="254" y1="652.0" x2="274" y2="652.0"/>
<line x1="254" y1="753.0" x2="274" y2="753.0"/>
<line x1="254" y1="866.0" x2="274" y2="866.0"/>
<line x1="254" y1="982.5" x2="274" y2="982.5"/>
<line x1="254" y1="1075.5" x2="274" y2="1075.5"/>
<rect x="628.2" y="1171" width="8" height="4" fill="#fff" stroke="none"/>
<line x1="632.2" y1="1146.9" x2="632.2" y2="1175.3" stroke-width="6.5"/>
<rect x="1024.5" y="1171" width="8" height="4" fill="#fff" stroke="none"/>
<line x1="1028.5" y1="1146.3" x2="1028.5" y2="1176.7" stroke-width="6.5"/>
<rect x="1422.0" y="1171" width="8" height="4" fill="#fff" stroke="none"/>
<line x1="1426.0" y1="1144.3" x2="1426.0" y2="1174.7" stroke-width="6.5"/>
<rect x="1818.0" y="1171" width="8" height="4" fill="#fff" stroke="none"/>
<line x1="1822.0" y1="1149.3" x2="1822.0" y2="1176.7" stroke-width="6.5"/>
<line x1="1543.5" y1="166.5" x2="1688.5" y2="166.5" stroke-width="6.8"/>
<line x1="1664.5" y1="304.0" x2="1834.0" y2="313.0" stroke-width="6.2"/>
<line x1="1799.0" y1="419.0" x2="1914.7" y2="427.0" stroke-width="6.2"/>
<line x1="1792.0" y1="543.3" x2="1895.8" y2="559.5" stroke-width="6.0"/>
<line x1="1553.4" y1="650.4" x2="1709.5" y2="670.4" stroke-width="6.3"/>
<line x1="1312.0" y1="808.0" x2="1451.9" y2="816.0" stroke-width="6.0"/>
</g>
<g style="font-family:'Liberation Serif','Times New Roman',serif" fill="#000">
<text x="235.2" y="61.2" font-size="65" font-weight="bold" text-anchor="end">78.5</text>
<text x="233.1" y="241.4" font-size="65" font-weight="bold" text-anchor="end">71.5</text>
<text x="234.2" y="454.3" font-size="65" font-weight="bold" text-anchor="end">64.5</text>
<text x="234.2" y="671.1" font-size="65" font-weight="bold" text-anchor="end">57.5</text>
<text x="235.2" y="881.9" font-size="65" font-weight="bold" text-anchor="end">50.5</text>
<text x="232.3" y="1093.1" font-size="65" font-weight="bold" text-anchor="end">43.5</text>
<text x="261.5" y="1257.2" font-size="85" text-anchor="middle">90</text>
<text x="635.7" y="1257.5" font-size="85" text-anchor="middle">120</text>
<text x="1032.1" y="1262.0" font-size="85" text-anchor="middle">150</text>
<text x="1429.0" y="1255.6" font-size="85" text-anchor="middle">180</text>
<text x="1823.3" y="1255.2" font-size="85" text-anchor="middle">210</text>
<text x="2220.1" y="1255.6" font-size="85" text-anchor="middle">240</text>
<g transform="translate(1034.5,1348.7) scale(0.91,1)"><text x="0" y="0" font-size="85" font-style="italic">V</text></g>
<text x="1079" y="1361.4" font-size="55">in<tspan dy="6">_</tspan><tspan dy="-6">RMS</tspan></text>
<text x="1280.9" y="1348.7" font-size="86">(V)</text>
<g transform="translate(77,726) rotate(-90)">
<g transform="translate(4.5,0) scale(1.12,1)"><text x="0" y="0" font-size="80" font-style="italic" style="font-family:'DejaVu Serif',serif">f</text></g>
<text x="38.7" y="11.5" font-size="53" font-style="italic">s</text>
<text x="86.4 114.1 156.6 219.1 256.3" y="0" font-size="87">(kHz)</text>
</g>
<text y="206.0" font-size="66"><tspan x="1728.5" font-style="italic">L</tspan><tspan x="1762.8" font-size="43.6" dy="8.7">2</tspan><tspan x="1782.8" dy="-8.7">=</tspan><tspan x="1819.6">270</tspan><tspan x="1919.8" font-size="58" dy="-11">µ</tspan><tspan x="1949.3" dy="11">H</tspan></text>
<text y="340.0" font-size="66"><tspan x="1849.6" font-style="italic">L</tspan><tspan x="1883.9" font-size="43.6" dy="8.7">2</tspan><tspan x="1903.8" dy="-8.7">=</tspan><tspan x="1940.7">290</tspan><tspan x="2040.9" font-size="58" dy="-11">µ</tspan><tspan x="2070.4" dy="11">H</tspan></text>
<text y="448.0" font-size="66"><tspan x="1910.7" font-style="italic">L</tspan><tspan x="1945.0" font-size="43.6" dy="8.7">2</tspan><tspan x="1964.9" dy="-8.7">=</tspan><tspan x="2001.8">310</tspan><tspan x="2102.0" font-size="58" dy="-11">µ</tspan><tspan x="2131.5" dy="11">H</tspan></text>
<text y="579.0" font-size="66"><tspan x="1910.6" font-style="italic">L</tspan><tspan x="1944.9" font-size="43.6" dy="8.7">2</tspan><tspan x="1964.8" dy="-8.7">=</tspan><tspan x="2001.7">330</tspan><tspan x="2101.9" font-size="58" dy="-11">µ</tspan><tspan x="2131.4" dy="11">H</tspan></text>
<text y="695.8" font-size="66"><tspan x="1717.6" font-style="italic">L</tspan><tspan x="1751.9" font-size="43.6" dy="8.7">2</tspan><tspan x="1771.8" dy="-8.7">=</tspan><tspan x="1808.7">350</tspan><tspan x="1908.9" font-size="58" dy="-11">µ</tspan><tspan x="1938.4" dy="11">H</tspan></text>
<text y="853.0" font-size="66"><tspan x="1469.8" font-style="italic">L</tspan><tspan x="1504.1" font-size="43.6" dy="8.7">2</tspan><tspan x="1524.0" dy="-8.7">=</tspan><tspan x="1560.9">370</tspan><tspan x="1661.1" font-size="58" dy="-11">µ</tspan><tspan x="1690.6" dy="11">H</tspan></text>
</g>
</svg>
</body></html>
